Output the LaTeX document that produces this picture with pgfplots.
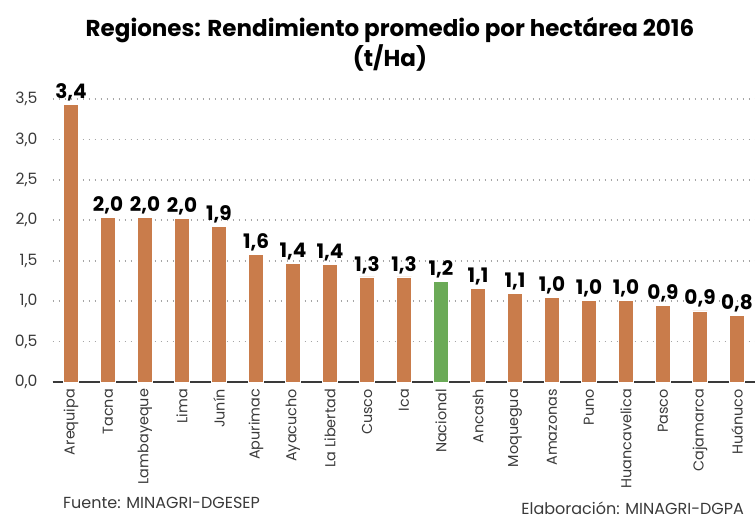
\documentclass[border=0pt]{standalone}
\usepackage{pgfplots}
\pgfplotsset{compat=1.18}
\usepackage{pgfplotstable}
\usepackage{fontspec}
\setmainfont{Poppins}
\definecolor{barorange}{HTML}{C97C4B}
\definecolor{bargreen}{HTML}{6BAA57}
\definecolor{txtgray}{HTML}{3A3A3A}

\pgfplotstableread{
x y lab
0 3.43 {3,4}
1 2.04 {2,0}
2 2.04 {2,0}
3 2.02 {2,0}
4 1.92 {1,9}
5 1.58 {1,6}
6 1.47 {1,4}
7 1.45 {1,4}
8 1.30 {1,3}
9 1.30 {1,3}
11 1.16 {1,1}
12 1.10 {1,1}
13 1.05 {1,0}
14 1.01 {1,0}
15 1.01 {1,0}
16 0.95 {0,9}
17 0.88 {0,9}
18 0.82 {0,8}
}\regiones

\pgfplotstableread{
x y lab
10 1.24 {1,2}
}\nacional

\begin{document}
\begin{tikzpicture}
\useasboundingbox (0,0) rectangle (377.5pt,260pt);
\begin{axis}[
  at={(26.25pt,69pt)}, anchor=south west,
  scale only axis, width=353.35pt, height=141.5pt,
  xmin=-0.5, xmax=18.6, ymin=0, ymax=3.5,
  ybar, bar width=7.5pt, bar shift=0pt,
  axis x line*=bottom, axis y line*=left,
  x axis line style={draw=txtgray, line width=1pt, -},
  y axis line style={draw=none},
  major tick length=0pt,
  xtick={0,...,18},
  xticklabels={Arequipa,Tacna,Lambayeque,Lima,Junín,Apurimac,Ayacucho,La Libertad,Cusco,Ica,Nacional,Ancash,Moquegua,Amazonas,Puno,Huancavelica,Pasco,Cajamarca,Huánuco},
  x tick label style={rotate=90, anchor=east, font=\fontsize{7.2}{8}\selectfont, text=txtgray},
  ytick={0,0.5,...,3.5},
  y tick label style={font=\fontsize{7.8}{9}\selectfont, text=txtgray, xshift=-4pt},
  yticklabel style={/pgf/number format/.cd, fixed, fixed zerofill, precision=1, use comma},
  /pgf/number format/assume math mode=true,
  ymajorgrids, grid style={gray!70, line width=0.8pt, dash pattern=on 0.8pt off 2.2pt},
  point meta=explicit symbolic,
  nodes near coords,
  every node near coord/.append style={font=\bfseries\fontsize{10}{11}\selectfont, text=black, inner sep=1.5pt},
  clip=false,
]
\addplot[fill=barorange, draw=white, line width=0.3pt] table[x=x, y=y, meta=lab] {\regiones};
\addplot[fill=bargreen, draw=white, line width=0.3pt] table[x=x, y=y, meta=lab] {\nacional};
\end{axis}
\node[anchor=north, align=center, font=\bfseries\fontsize{11.5}{15}\selectfont, text=black] at (195pt,255pt) {Regiones: Rendimiento promedio por hectárea 2016\\(t/Ha)};
\node[anchor=base west, font=\fontsize{8}{9}\selectfont, text=txtgray] at (28pt,6pt) {Fuente: MINAGRI-DGESEP};
\node[anchor=base east, font=\fontsize{8}{9}\selectfont, text=txtgray] at (375.5pt,3pt) {Elaboración: MINAGRI-DGPA};
\end{tikzpicture}
\end{document}
